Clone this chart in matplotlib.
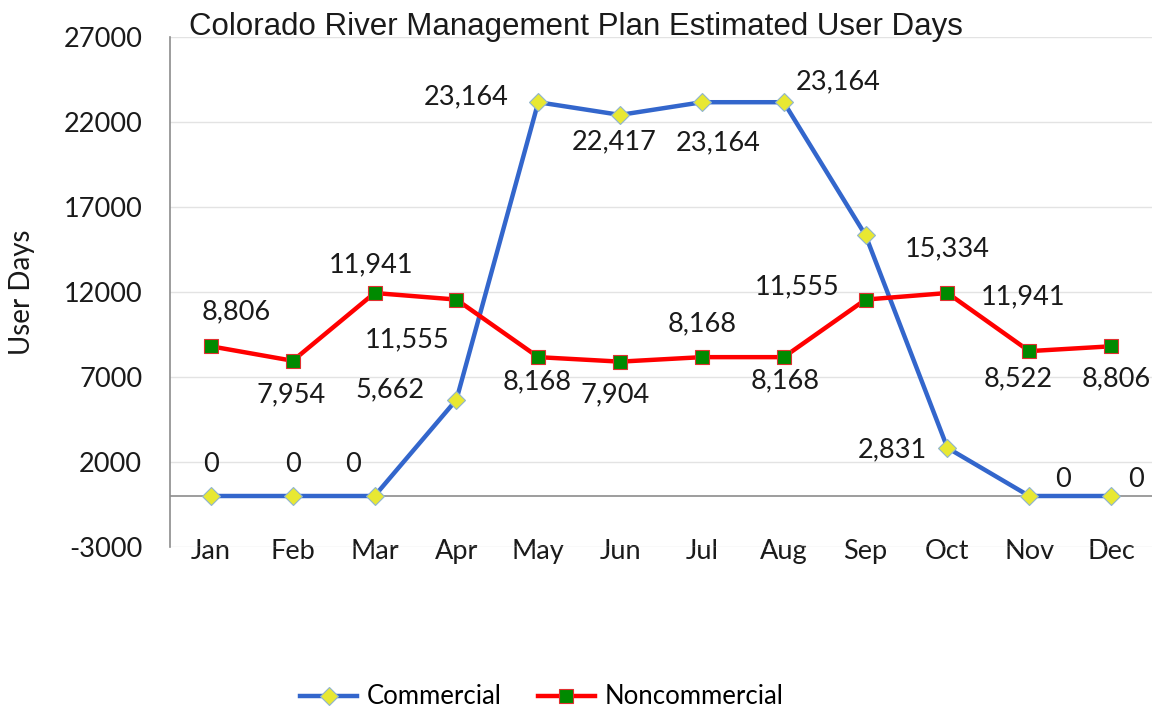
"""Colorado River Management Plan estimated user days."""

import matplotlib
matplotlib.use("Agg")
import matplotlib.pyplot as plt

months = ["Jan", "Feb", "Mar", "Apr", "May", "Jun",
          "Jul", "Aug", "Sep", "Oct", "Nov", "Dec"]
commercial = [0, 0, 0, 5662, 23164, 22417, 23164, 23164, 15334, 2831, 0, 0]
noncommercial = [8806, 7954, 11941, 11555, 8168, 7904,
                 8168, 8168, 11555, 11941, 8522, 8806]
y_ticks = [-3000, 2000, 7000, 12000, 17000, 22000, 27000]

# label offsets in pixels (dx, dy up) from each marker, as Excel placed them
comm_off = [(0, 31), (0, 31), (-22, 31), (-66, 10), (-72, 5), (-6, -27),
            (16, -41), (54, 20), (82, -13), (-55, -2), (34, 16), (25, 16)]
nonc_off = [(25, 34), (-2, -34), (-4, 28), (-49, -40), (-1, -25), (-5, -33),
            (0, 33), (1, -24), (-68, 13), (76, -4), (-11, -28), (5, -33)]

FONT = "Lato"

fig = plt.figure(figsize=(11.56, 7.13), dpi=100)
ax = fig.add_axes([170 / 1156, 1 - 547 / 713, 982 / 1156, 510 / 713])

x = list(range(len(months)))

ax.plot(x, commercial, color="#3366CC", lw=3.2, marker="D", ms=9.5,
        mfc="#E8E832", mec="#8FB4CF", mew=0.8, zorder=3, label="Commercial")
ax.plot(x, noncommercial, color="#FF0000", lw=3.2, marker="s", ms=9.5,
        mfc="#008A00", mec="#E03030", mew=0.8, zorder=4, label="Noncommercial")

for xi, v, (dx, dy) in zip(x, commercial, comm_off):
    ax.annotate(f"{v:,}", (xi, v), xytext=(dx, dy), textcoords="offset pixels",
                ha="center", va="center", fontsize=19.5, family=FONT,
                color="#1a1a1a", zorder=5)
for xi, v, (dx, dy) in zip(x, noncommercial, nonc_off):
    ax.annotate(f"{v:,}", (xi, v), xytext=(dx, dy), textcoords="offset pixels",
                ha="center", va="center", fontsize=19.5, family=FONT,
                color="#1a1a1a", zorder=5)

ax.set_xlim(-0.5, len(months) - 0.5)
ax.set_ylim(-3000, 27000)
ax.set_yticks(y_ticks)
ax.set_yticklabels([str(t) for t in y_ticks], family=FONT, fontsize=19.5)
ax.set_xticks(x)
ax.set_xticklabels(months, family=FONT, fontsize=19.5)
ax.tick_params(axis="y", length=0, pad=20, colors="#1a1a1a")
ax.tick_params(axis="x", length=0, pad=-6, colors="#1a1a1a")

ax.grid(axis="y", color="#E3E3E3", lw=1)
ax.set_axisbelow(True)
ax.axhline(0, color="#8C8C8C", lw=1.2, zorder=2)
for s in ("top", "right", "bottom"):
    ax.spines[s].set_visible(False)
ax.spines["left"].set_color("#8C8C8C")
ax.spines["left"].set_linewidth(1.2)

ax.set_ylabel("User Days", family=FONT, fontsize=20, color="#1a1a1a")
ax.yaxis.set_label_coords(-135 / 982, 0.5)

fig.text(576 / 1156, 1 - 35 / 713,
         "Colorado River Management Plan Estimated User Days",
         ha="center", va="baseline", fontsize=22.5, family="Liberation Sans",
         color="#1a1a1a")

fig.legend(loc="center", bbox_to_anchor=(542 / 1156, 1 - 697 / 713),
           ncol=2, frameon=False, prop={"family": FONT, "size": 18.5},
           handlelength=2.2, handletextpad=0.4, columnspacing=1.4)

fig.savefig("out.png", dpi=100)
